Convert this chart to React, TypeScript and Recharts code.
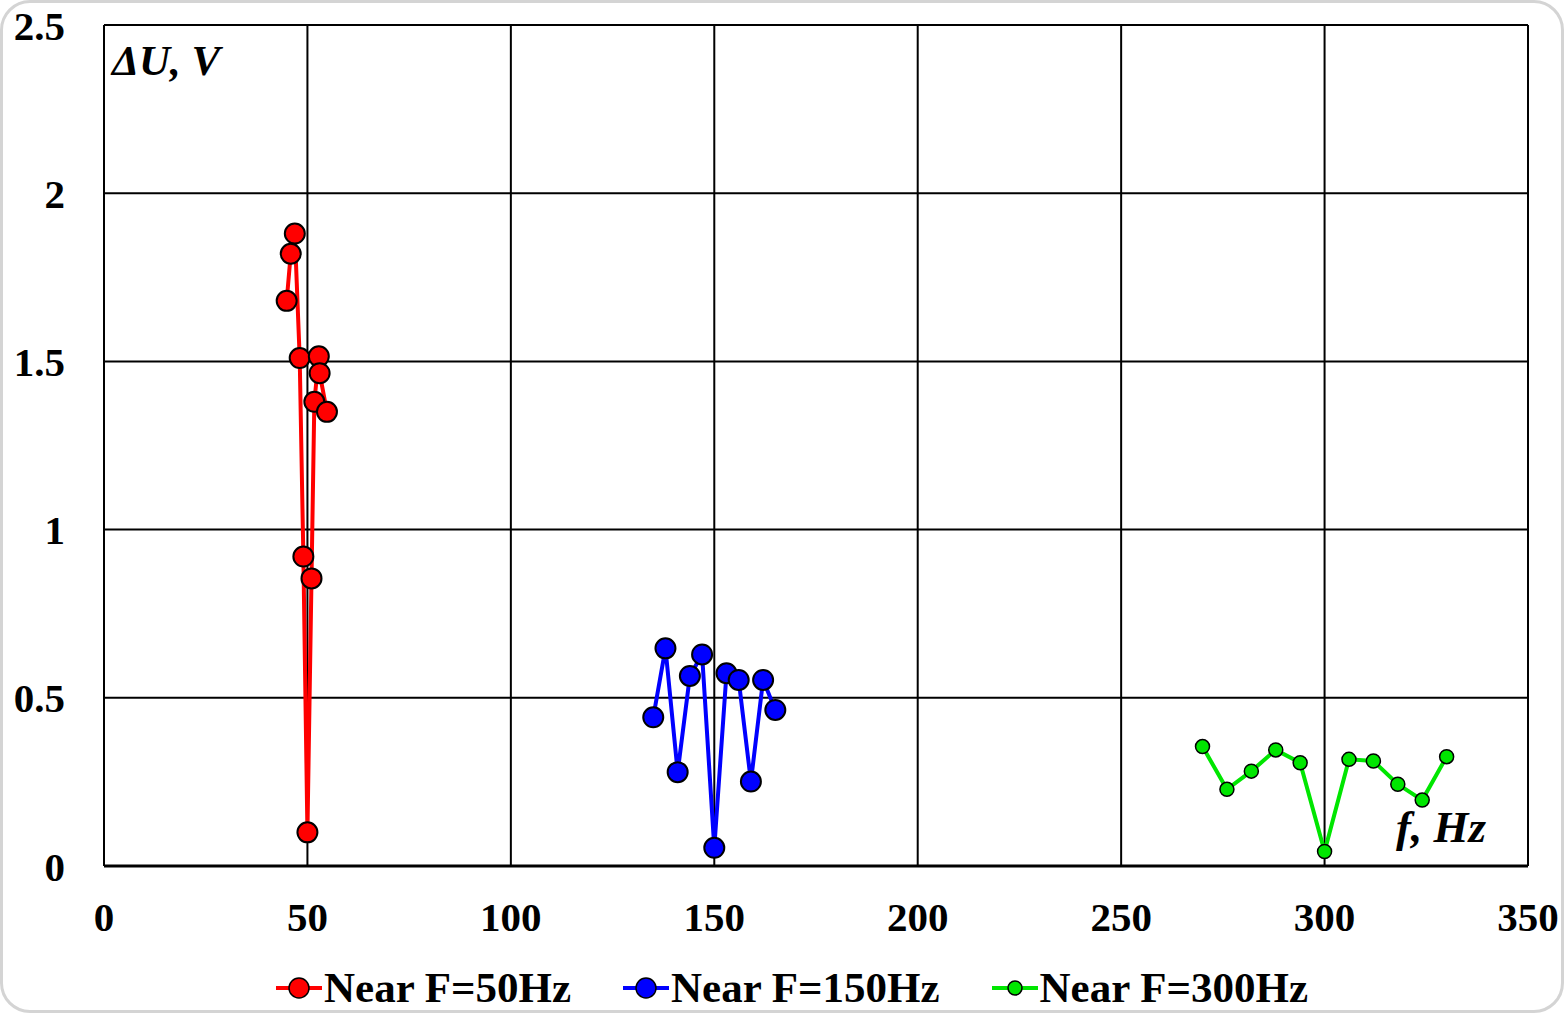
import React from 'react';
import { LineChart, Line, XAxis, YAxis, CartesianGrid } from 'recharts';

const near50Hz = [44.9, 45.9, 46.9, 48.1, 49.0, 50.0, 51.0, 51.7, 52.8, 53.0, 54.8];
const near50U = [1.68, 1.82, 1.88, 1.51, 0.92, 0.1, 0.855, 1.38, 1.515, 1.465, 1.35];

const near150Hz = [135, 138, 141, 144, 147, 150, 153, 156, 159, 162, 165];
const near150U = [0.442, 0.647, 0.279, 0.565, 0.629, 0.054, 0.573, 0.553, 0.251, 0.553, 0.464];

const near300Hz = [270, 276, 282, 288, 294, 300, 306, 312, 318, 324, 330];
const near300U = [0.355, 0.228, 0.282, 0.345, 0.307, 0.043, 0.317, 0.312, 0.243, 0.196, 0.325];

const xTicks = [0, 50, 100, 150, 200, 250, 300, 350];
const yTicks = [0, 0.5, 1, 1.5, 2, 2.5];

const seriesNames = ['Near F=50Hz', 'Near F=150Hz', 'Near F=300Hz'];
const seriesColors = ['#ff0000', '#0000ff', '#00e600'];

const toPoints = (xs: number[], ys: number[]) => xs.map((x, i) => ({ x, y: ys[i] }));

const FONT = '"Liberation Serif", "Times New Roman", serif';

export default function App() {
  const red = toPoints(near50Hz, near50U);
  const blue = toPoints(near150Hz, near150U);
  const green = toPoints(near300Hz, near300U);

  const tickStyle = { fontFamily: FONT, fontWeight: 700, fontSize: 41, fill: '#000' };

  return (
    <div style={{ position: 'absolute', left: 0, top: 0, width: 1564, height: 1013, background: '#fff' }}>
      <LineChart width={1564} height={1013} margin={{ top: 25, right: 36, bottom: 87, left: 0 }}>
        <CartesianGrid stroke="#000" strokeWidth={2} />
        <XAxis
          type="number"
          dataKey="x"
          domain={[0, 350]}
          ticks={xTicks}
          height={60}
          tickLine={false}
          tickSize={0}
          tickMargin={36}
          axisLine={{ stroke: '#000', strokeWidth: 3 }}
          tick={tickStyle}
          interval={0}
        />
        <YAxis
          type="number"
          domain={[0, 2.5]}
          ticks={yTicks}
          width={104}
          tickLine={false}
          tickSize={0}
          tickMargin={39}
          axisLine={{ stroke: '#000', strokeWidth: 2 }}
          tick={tickStyle}
          interval={0}
        />
        <Line
          data={red}
          dataKey="y"
          stroke={seriesColors[0]}
          strokeWidth={4}
          dot={{ r: 10, fill: seriesColors[0], stroke: '#000', strokeWidth: 2 }}
          isAnimationActive={false}
        />
        <Line
          data={blue}
          dataKey="y"
          stroke={seriesColors[1]}
          strokeWidth={4}
          dot={{ r: 10, fill: seriesColors[1], stroke: '#000', strokeWidth: 2 }}
          isAnimationActive={false}
        />
        <Line
          data={green}
          dataKey="y"
          stroke={seriesColors[2]}
          strokeWidth={4}
          dot={{ r: 7, fill: seriesColors[2], stroke: '#000', strokeWidth: 1.5 }}
          isAnimationActive={false}
        />
      </LineChart>

      {/* axis captions inside the plot */}
      <div style={{ position: 'absolute', left: 112, top: 36, font: `italic 700 43px ${FONT}` }}>ΔU, V</div>
      <div style={{ position: 'absolute', right: 1564 - 1486, top: 801, font: `italic 700 45px ${FONT}` }}>f, Hz</div>

      {/* legend */}
      <div
        style={{
          position: 'absolute',
          left: 0,
          top: 964,
          width: 1564,
          paddingLeft: 20,
          boxSizing: 'border-box',
          display: 'flex',
          justifyContent: 'center',
          gap: 52,
          font: `700 43px ${FONT}`,
        }}
      >
        {seriesNames.map((name, i) => (
          <div key={name} style={{ display: 'flex', alignItems: 'center' }}>
            <svg width={46} height={24} style={{ marginRight: 2 }}>
              <line x1={0} y1={12} x2={46} y2={12} stroke={seriesColors[i]} strokeWidth={4} />
              <circle cx={23} cy={12} r={i === 2 ? 7 : 10} fill={seriesColors[i]} stroke="#000" strokeWidth={1.5} />
            </svg>
            <span style={{ lineHeight: '48px' }}>{name}</span>
          </div>
        ))}
      </div>

      {/* rounded frame */}
      <div
        style={{
          position: 'absolute',
          left: 0,
          top: 0,
          width: 1564,
          height: 1013,
          boxSizing: 'border-box',
          border: '3px solid #d4d4d4',
          borderRadius: 30,
          pointerEvents: 'none',
        }}
      />
    </div>
  );
}
